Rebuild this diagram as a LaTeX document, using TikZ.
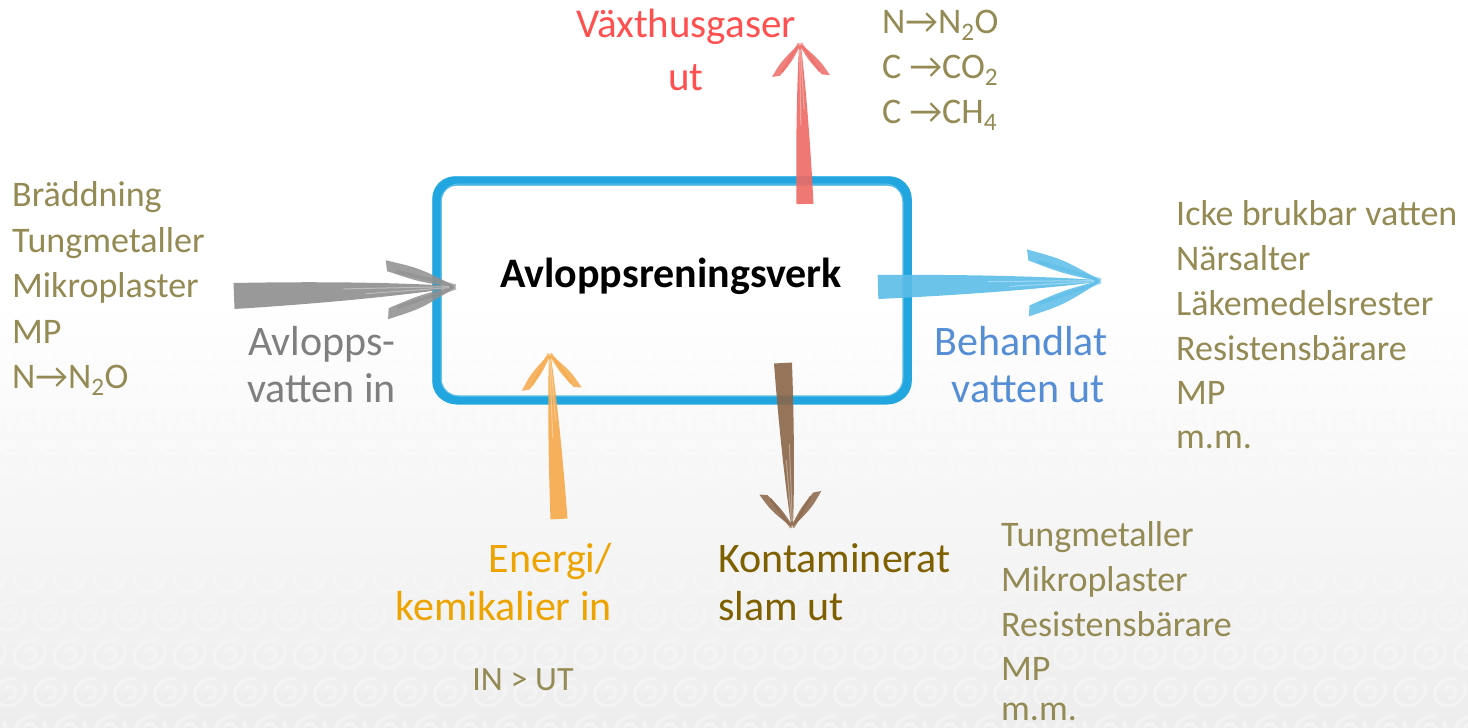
\documentclass[tikz,border=0pt]{standalone}
\usepackage{fontspec}
\setmainfont{Carlito}
\definecolor{txtolive}{HTML}{948A54}
\definecolor{txtred}{HTML}{FF5050}
\definecolor{txtgray}{HTML}{7F7F7F}
\definecolor{txtblue}{HTML}{558ED5}
\definecolor{txtorange}{HTML}{EEA400}
\definecolor{txtbrown}{HTML}{7F6000}
\definecolor{boxblue}{HTML}{22A6E0}
\definecolor{agray}{HTML}{8F8F8F}
\definecolor{ablue}{HTML}{5BBDE8}
\definecolor{ared}{HTML}{EE6A64}
\definecolor{aorange}{HTML}{F6A94A}
\definecolor{abrown}{HTML}{8B6648}
\definecolor{bgg}{HTML}{EDEDED}
\definecolor{swirlc}{HTML}{F6F6F6}
% #1 colour, #2 length, #3 tail width, #4 head length, #5 head half-spread, #6 head stroke width
\newcommand{\brush}[6]{%
  \fill[#1, fill opacity=0.9] (0,-#3/2) .. controls (0.45*#2,-0.42*#3) and (0.8*#2,-0.22*#3) .. (#2,-1) -- (#2,1) .. controls (0.8*#2,0.22*#3) and (0.45*#2,0.42*#3) .. (0,#3/2) -- cycle;
  \fill[#1, fill opacity=0.85] (#2-#4,-#5-#6/2) .. controls (#2-0.5*#4,-0.62*#5-#6/2) .. (#2+2,-1) -- (#2,0) .. controls (#2-0.5*#4,-0.5*#5+#6/2) .. (#2-#4+1,-#5+#6/2) -- cycle;
  \fill[#1, fill opacity=0.85] (#2-#4,#5+#6/2) .. controls (#2-0.5*#4,0.62*#5+#6/2) .. (#2+2,1) -- (#2,0) .. controls (#2-0.5*#4,0.5*#5-#6/2) .. (#2-#4+1,#5-#6/2) -- cycle;
  \draw[#1, draw opacity=0.6, line width=0.3*#6] (#2-0.85*#4,-0.75*#5) -- (#2+3,-1);
  \draw[#1, draw opacity=0.6, line width=0.3*#6] (#2-0.85*#4,0.75*#5) -- (#2+3,1);
  \draw[white, draw opacity=0.35, line width=1pt] (0.5*#2,-0.1*#3) -- (#2-4,-0.5);
  \draw[white, draw opacity=0.35, line width=1pt] (0.6*#2,0.12*#3) -- (#2-4,0.5);
}
\tikzset{
  lst/.style={font=\fontsize{36}{45}\selectfont, text=txtolive, inner sep=0pt},
  lbl/.style={font=\fontsize{42}{48}\selectfont, inner sep=0pt},
  boxst/.style={draw=boxblue, line width=9pt, rounded corners=20pt, inner sep=0pt},
  swirlpic/.pic={
    \draw[swirlc, line width=3.5pt, rotate=30] (0:16) arc[start angle=0, end angle=320, x radius=16, y radius=13];
    \draw[swirlc, line width=3pt] (200:6) arc[start angle=200, end angle=470, radius=6];
  }
}
\begin{document}
\begin{tikzpicture}[x=1pt,y=-1pt]
\useasboundingbox (0,0) rectangle (1468,728);
% background
\fill[white] (0,0) rectangle (1468,728);
\shade[top color=white, bottom color=bgg] (0,300) rectangle (1468,728);
\foreach \row in {0,...,10} {
  \pgfmathsetmacro\yy{350+38*\row}
  \pgfmathsetmacro\op{min(0.75,(\yy-340)/300)}
  \pgfmathsetmacro\off{mod(\row,2)*20}
  \foreach \col in {0,...,37} {
    \pic[draw opacity=\op] at ({\off+40*\col-10},\yy) {swirlpic};
  }
}
% box
\node[boxst, minimum width=470pt, minimum height=219pt] (box) at (672,290.5) {};
\draw[boxblue, line width=1.5pt, rounded corners=22pt] (433,177) rectangle (911,403);
\draw[boxblue!70, line width=1pt, rounded corners=18pt] (441,184) rectangle (903,396);
\node[font=\bfseries\fontsize{42}{50}\selectfont, inner sep=0pt, anchor=base] (title) at (671,287) {Avloppsreningsverk};

% arrow end points
\coordinate (gtail) at (234,296);
\coordinate (btail) at (878,287);
\coordinate (rtail) at (805,204);
\coordinate (otail) at (559,519);
\coordinate (ntail) at (783,363);

\begin{scope}[shift={(gtail)}, rotate=2.35]
  \brush{agray}{219}{26}{66}{24}{11}
\end{scope}
\begin{scope}[shift={(btail)}, rotate=1.56]
  \brush{ablue}{220}{24}{70}{28}{11}
\end{scope}
\begin{scope}[shift={(rtail)}, rotate=91.8]
  \brush{ared}{158}{17}{30}{25}{8}
\end{scope}
\begin{scope}[shift={(otail)}, rotate=93.2]
  \brush{aorange}{163}{17}{33}{26}{8}
\end{scope}
\begin{scope}[shift={(ntail)}, rotate=-86.8]
  \brush{abrown}{162}{18}{32}{27}{8}
\end{scope}

% left list
\node[lst, anchor=base west] (l1) at (12,206) {Bräddning};
\node[lst, anchor=base west] (l2) at (12,252) {Tungmetaller};
\node[lst, anchor=base west] (l3) at (12,297) {Mikroplaster};
\node[lst, anchor=base west] (l4) at (12,343) {MP};
\node[lst, anchor=base west] (l5) at (12,388) {N→N\textsubscript{2}O};

% chemical list
\node[lst, anchor=base west] (c1) at (882,33) {N→N\textsubscript{2}O};
\node[lst, anchor=base west] (c2) at (882,78) {C →CO\textsubscript{2}};
\node[lst, anchor=base west] (c3) at (882,123) {C →CH\textsubscript{4}};

% right list
\node[lst, anchor=base west] (r1) at (1176,225) {Icke brukbar vatten};
\node[lst, anchor=base west] (r2) at (1176,270) {Närsalter};
\node[lst, anchor=base west] (r3) at (1176,315) {Läkemedelsrester};
\node[lst, anchor=base west] (r4) at (1176,360) {Resistensbärare};
\node[lst, anchor=base west] (r5) at (1176,404) {MP};
\node[lst, anchor=base west] (r6) at (1176,448) {m.m.};

% bottom right list
\node[lst, anchor=base west] (s1) at (1001,546) {Tungmetaller};
\node[lst, anchor=base west] (s2) at (1001,591) {Mikroplaster};
\node[lst, anchor=base west] (s3) at (1001,636) {Resistensbärare};
\node[lst, anchor=base west] (s4) at (1001,680) {MP};
\node[lst, anchor=base west] (s5) at (1001,720) {m.m.};

% labels
\node[lbl, text=txtred, font=\fontsize{41}{48}\selectfont, anchor=base] (v1) at (686,37) {Växthusgaser};
\node[lbl, text=txtred, font=\fontsize{41}{48}\selectfont, anchor=base] (v2) at (686,90) {ut};
\node[lbl, text=txtgray, anchor=base east] (a1) at (396,355) {Avlopps-};
\node[lbl, text=txtgray, anchor=base east] (a2) at (396,402) {vatten in};
\node[lbl, text=txtblue, anchor=base east] (b1) at (1108,355) {Behandlat};
\node[lbl, text=txtblue, anchor=base east] (b2) at (1105,402) {vatten ut};
\node[lbl, text=txtorange, anchor=base east] (e1) at (612,572) {Energi/};
\node[lbl, text=txtorange, anchor=base east] (e2) at (612,620) {kemikalier in};
\node[lbl, text=txtbrown, anchor=base west] (k1) at (718,572) {Kontaminerat};
\node[lbl, text=txtbrown, anchor=base west] (k2) at (718,620) {slam ut};
\node[lst, font=\fontsize{34}{40}\selectfont, anchor=base] (inut) at (523,690) {IN > UT};
\end{tikzpicture}
\end{document}
